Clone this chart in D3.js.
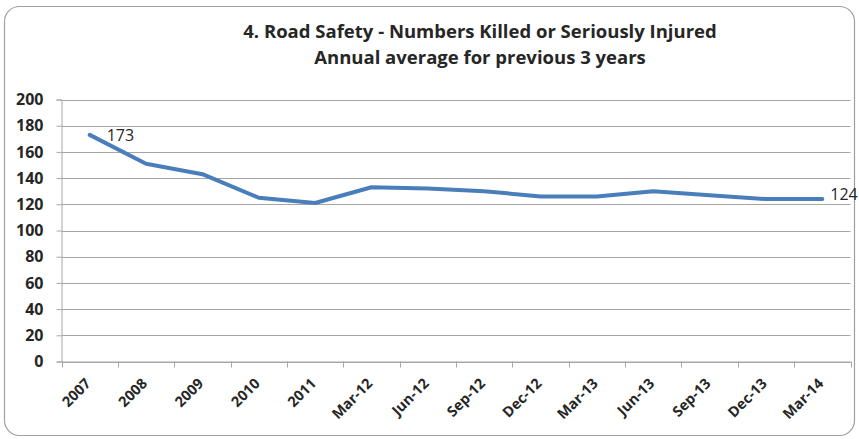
<!DOCTYPE html>
<html><head><meta charset="utf-8">
<script src="https://cdn.jsdelivr.net/npm/d3@7"></script>
<style>body{margin:0;background:#fff;}svg{display:block;font-family:"Open Sans",sans-serif;}</style>
</head><body>
<svg id="c" width="859" height="439"></svg>
<script>
const categories = ["2007","2008","2009","2010","2011","Mar-12","Jun-12","Sep-12","Dec-12","Mar-13","Jun-13","Sep-13","Dec-13","Mar-14"];
const values = [173,151,143,125,121,133,132,130,126,126,130,127,124,124];
const yTicks = [0,20,40,60,80,100,120,140,160,180,200];
const titleLines = ["4. Road Safety - Numbers Killed or Seriously Injured","Annual average for previous 3 years"];

const svg = d3.select("#c");
const W = 859, H = 439;
const m = {left:61.5, right:850.5, top:99.5, bottom:361.5};

svg.append("rect").attr("x",4.5).attr("y",6.5).attr("width",W-9).attr("height",H-10)
  .attr("rx",15).attr("fill","#fff").attr("stroke","#a0a0a0").attr("stroke-width",1.2);

svg.selectAll("text.title").data(titleLines).join("text").attr("class","title")
  .attr("x",480).attr("y",(d,i)=>38+i*26).attr("text-anchor","middle")
  .attr("font-weight","bold").attr("font-size",18.5).attr("fill","#262626").text(d=>d);

const x = d3.scaleBand().domain(categories).range([m.left,m.right]);
const y = d3.scaleLinear().domain([0,200]).range([m.bottom,m.top]);

// gridlines
svg.append("g").selectAll("line").data(yTicks).join("line")
  .attr("x1",m.left).attr("x2",m.right).attr("y1",d=>Math.round(y(d))+0.5).attr("y2",d=>Math.round(y(d))+0.5)
  .attr("stroke","#a6a6a6").attr("stroke-width",1);

// y axis
const ya = svg.append("g").attr("transform",`translate(${m.left},0)`)
  .call(d3.axisLeft(y).tickValues(yTicks).tickSize(5).tickPadding(13));
ya.select(".domain").attr("stroke","#a6a6a6");
ya.selectAll(".tick line").attr("stroke","#a6a6a6");
ya.selectAll(".tick text").attr("font-family","Open Sans").attr("font-weight","bold").attr("font-size",16).attr("fill","#262626");

// x axis
const xa = svg.append("g").attr("transform",`translate(0,${m.bottom})`)
  .call(d3.axisBottom(x).tickSize(0).tickPadding(0));
xa.select(".domain").attr("stroke","#a6a6a6");
xa.selectAll(".tick line").remove();
xa.selectAll(".tick text").remove();
const edges = categories.map(c=>x(c)).concat([m.right]);
xa.selectAll("line.t").data(edges).join("line").attr("class","t")
  .attr("x1",d=>Math.round(d)+0.5).attr("x2",d=>Math.round(d)+0.5).attr("y1",0).attr("y2",6).attr("stroke","#a6a6a6");
xa.selectAll("text.lab").data(categories).join("text").attr("class","lab")
  .attr("transform",d=>`translate(${x(d)+x.bandwidth()/2+2},${23}) rotate(-45)`)
  .attr("text-anchor","end").attr("font-family","Open Sans").attr("font-weight","bold").attr("font-size",14.5).attr("fill","#262626").text(d=>d);

// line
const line = d3.line().x((d,i)=>x(categories[i])+x.bandwidth()/2).y(d=>y(d));
svg.append("path").datum(values).attr("d",line).attr("fill","none")
  .attr("stroke","#4a7ebb").attr("stroke-width",4).attr("stroke-linejoin","round").attr("stroke-linecap","round");

// data labels
const n = values.length;
svg.append("text").attr("x",x(categories[0])+x.bandwidth()/2+17).attr("y",y(values[0])+6)
  .attr("font-size",16).attr("fill","#262626").text(values[0]);
svg.append("text").attr("x",x(categories[n-1])+x.bandwidth()/2+8).attr("y",y(values[n-1])+1)
  .attr("font-size",16).attr("fill","#262626").text(values[n-1]);
</script>
</body></html>
